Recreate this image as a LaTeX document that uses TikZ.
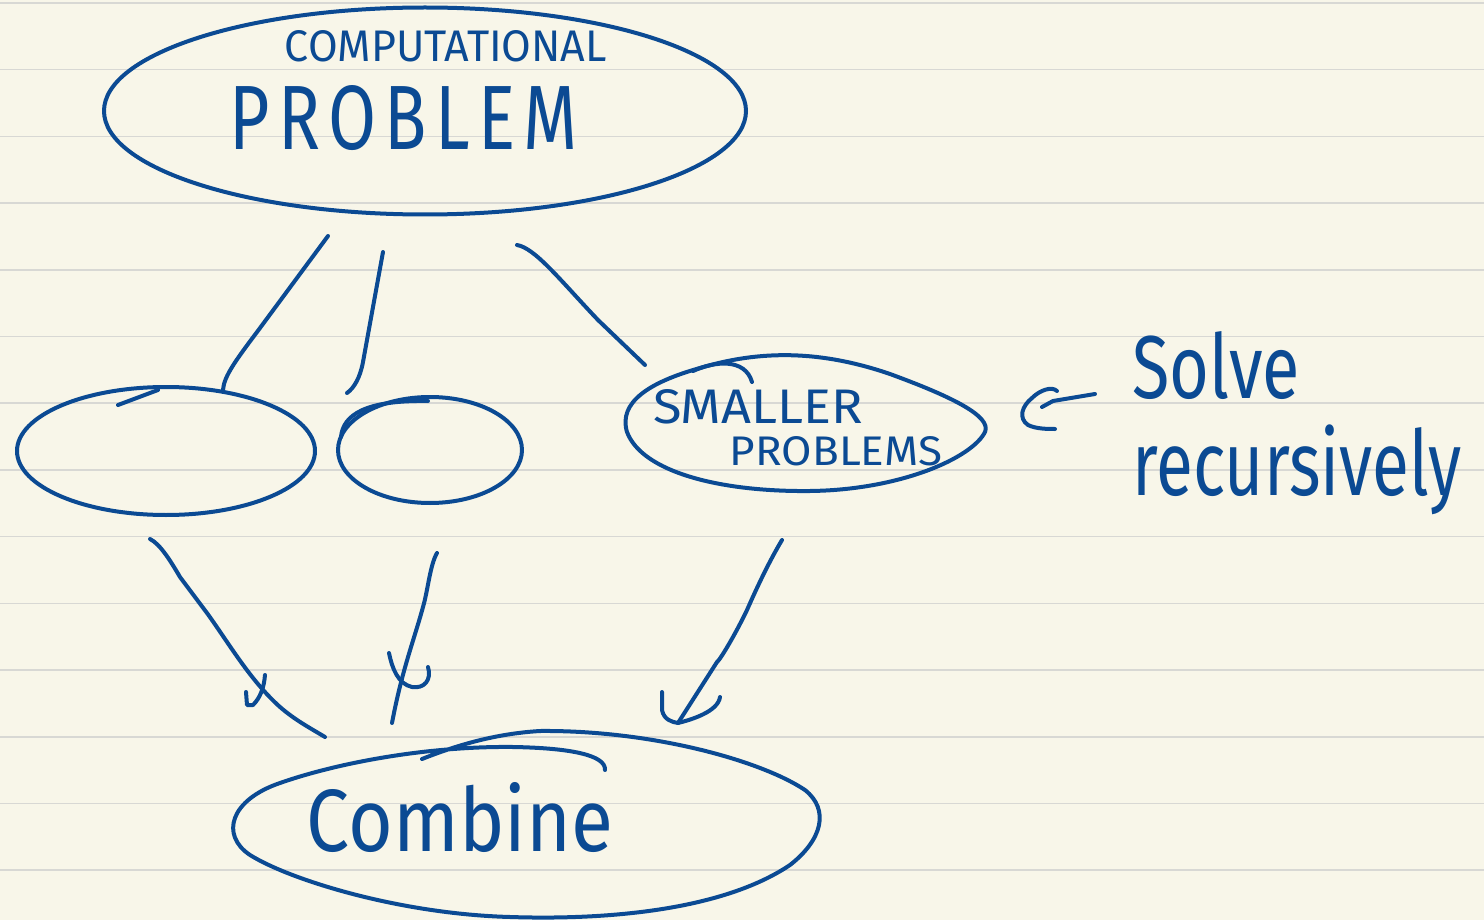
\documentclass[tikz,border=0pt]{standalone}
\usepackage{graphicx}
\usepackage{fontspec}
\newfontfamily\hand{Fira Sans}
\usetikzlibrary{shapes.geometric}
\definecolor{paper}{HTML}{F8F6E9}
\definecolor{rulegrey}{HTML}{D8D8D4}
\definecolor{inkblue}{HTML}{0B4A93}
\begin{document}
\begin{tikzpicture}[x=1pt,y=-1pt,
  ink/.style={draw=inkblue,line width=4pt,line cap=round,line join=round},
  lbl/.style={inner sep=0pt,text=inkblue,font=\hand},
  blob/.style={ellipse,ink,inner sep=0pt},
  hidden/.style={ellipse,inner sep=0pt,draw=none}]
% paper
\fill[paper] (0,0) rectangle (1484,920);
\useasboundingbox (0,0) rectangle (1484,920);
\foreach \k in {0,...,13} \draw[rulegrey,line width=1.6pt] (0,{3+66.7*\k}) -- (1484,{3+66.7*\k});

% top problem
\node[blob,minimum width=642pt,minimum height=207pt] (prob) at (425,111) {};
\node[lbl] (tcomp) at (446,46) {\resizebox{322pt}{31pt}{COMPUTATIONAL}};
\node[lbl] (tprob) at (404,118) {\resizebox{348pt}{64pt}{\addfontfeatures{LetterSpace=12}PROBLEM}};

% smaller problems
\node[blob,minimum width=298pt,minimum height=128pt] (s1) at (166,451) {};
\node[blob,minimum width=184pt,minimum height=106pt] (s2) at (430,450) {};
\node[hidden,minimum width=360pt,minimum height=136pt] (s3) at (806,422) {};
\draw[ink] (700,368) .. controls (760,350) and (820,350) .. (890,374)
  .. controls (950,396) and (992,416) .. (985,432)
  .. controls (972,458) and (900,490) .. (810,491)
  .. controls (720,492) and (642,472) .. (627,432)
  .. controls (618,402) and (650,382) .. (700,368);
\draw[ink] (693,371) .. controls (715,361) and (745,358) .. (752,382);
\draw[ink] (118,405) -- (158,390);
\draw[ink] (341,437) .. controls (343,415) and (365,400) .. (428,401);
\node[lbl] (tsmall) at (758,407) {\resizebox{210pt}{34pt}{SMALLER}};
\node[lbl] (tprobs) at (836,451) {\resizebox{212pt}{29pt}{PROBLEMS}};

% combine
\node[hidden,minimum width=584pt,minimum height=188pt] (comb) at (525,824) {};
\draw[ink] (422,759) .. controls (450,748) and (490,734) .. (540,731)
  .. controls (650,730) and (760,760) .. (805,790)
  .. controls (830,810) and (822,840) .. (790,865)
  .. controls (720,912) and (600,920) .. (510,917)
  .. controls (400,914) and (290,880) .. (250,855)
  .. controls (220,835) and (230,800) .. (280,783)
  .. controls (340,762) and (430,746) .. (513,747)
  .. controls (570,748) and (606,755) .. (605,770);
\node[lbl] (tcomb) at (460,818) {\resizebox{306pt}{69pt}{Combine}};

% solve recursively
\node[lbl] (tsolve) at (1216,366) {\resizebox{167pt}{67pt}{Solve}};
\node[lbl] (trec) at (1297,470) {\resizebox*{329pt}{90pt}{recursively}};

% connectors from the problem to the smaller problems
\coordinate (p1) at (328,236);
\coordinate (p2) at (383,252);
\coordinate (p3) at (517,245);
\coordinate (m2) at (347,393);
\draw[ink] (p1) -- (260,328) .. controls (236,360) and (224,376) .. (s1.47);
\draw[ink] (p2) -- (363,362) .. controls (360,378) and (354,388) .. (m2);
\draw[ink] (p3) .. controls (535,248) and (560,280) .. (598,320) -- (645,365);

% connectors to combine
\coordinate (q1) at (150,539);
\coordinate (e1) at (325,737);
\draw[ink] (q1) .. controls (160,544) and (170,560) .. (180,577)
  -- (207,613) .. controls (230,645) and (250,680) .. (280,707)
  .. controls (295,720) and (310,728) .. (e1);
\draw[ink] (246,692) -- (247,705) -- (253,705) .. controls (260,698) and (264,688) .. (265,675);
\coordinate (q2) at (437,553);
\coordinate (e2) at (392,723);
\draw[ink] (q2) .. controls (430,565) and (428,590) .. (423,607)
  .. controls (414,640) and (402,670) .. (e2);
\draw[ink] (389,653) .. controls (392,668) and (398,684) .. (412,687)
  .. controls (424,689) and (432,680) .. (428,667);
\coordinate (q3) at (782,540);
\coordinate (e3) at (678,723);
\draw[ink] (q3) .. controls (770,560) and (758,585) .. (747,610)
  .. controls (735,635) and (720,660) .. (717,662) -- (e3);
\draw[ink] (662,692) -- (662,710) .. controls (664,720) and (672,722) .. (e3)
  .. controls (690,720) and (718,712) .. (720,697);

% recursion arrow
\coordinate (r1) at (1095,394);
\draw[ink] (r1) -- (1053,401) -- (1042,407);
\draw[ink] (1057,391) .. controls (1052,386) and (1040,390) .. (1032,398)
  .. controls (1022,406) and (1018,418) .. (1028,425)
  .. controls (1036,429) and (1048,429) .. (1055,429);
\end{tikzpicture}
\end{document}
